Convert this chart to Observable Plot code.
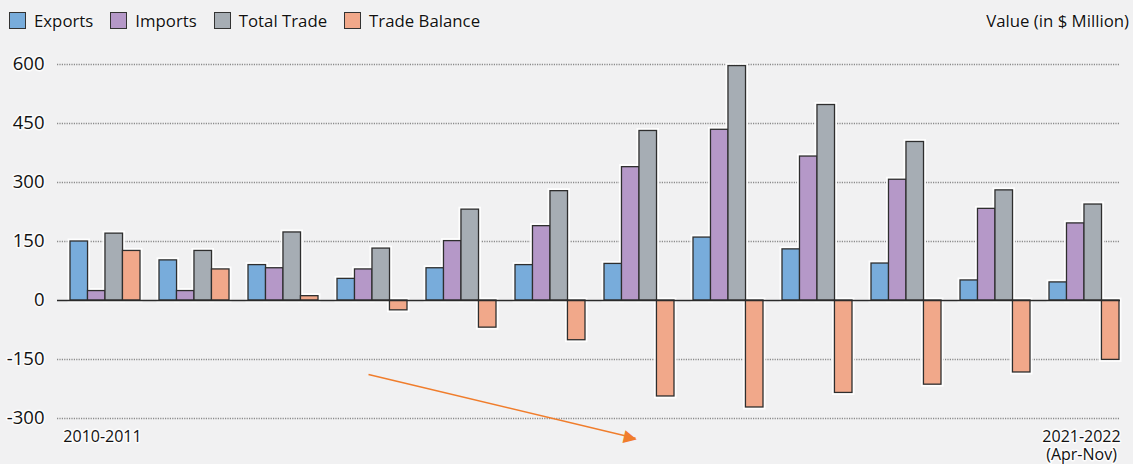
<!DOCTYPE html>
<html><head><meta charset="utf-8">
<script src="https://cdn.jsdelivr.net/npm/d3@7"></script>
<script src="https://cdn.jsdelivr.net/npm/@observablehq/plot@0.6"></script>
<style>
body{margin:0;background:#f1f1f2;font-family:"Open Sans",sans-serif;}
#wrap{width:1133px;height:464px;position:relative;background:#f1f1f2;}
#head{height:40px;display:flex;align-items:center;justify-content:space-between;font-size:16.8px;color:#111;text-shadow:0 0 3px #fff,0 0 2px #fff;}
.legend{display:flex;align-items:center;padding-left:9px;}
.item{display:flex;align-items:center;margin-right:17px;}
.sw{width:15px;height:15px;border:1.5px solid #333;margin-right:8px;}
.unit{padding-right:4px;}
#chart svg{display:block;background:transparent;}
#chart svg g[aria-label="y-axis tick label"] text, #chart svg g[aria-label="y-axis"] text{paint-order:stroke;stroke:#fff;stroke-width:3px;stroke-linejoin:round;stroke-opacity:0.85;}
</style></head>
<body>
<div id="wrap">
  <div id="head"><div class="legend" id="legend"></div><div class="unit">Value (in $ Million)</div></div>
  <div id="chart"></div>
</div>
<script>
const years = ["2010-2011","2011-2012","2012-2013","2013-2014","2014-2015","2015-2016","2016-2017","2017-2018","2018-2019","2019-2020","2020-2021","2021-2022"];
const exportsV = [150,102,90,55,82,90,93,160,130,94,51,46];
const importsV = [24,24,82,79,151,189,339,434,366,307,233,196];
const totalV = [170,126,173,132,231,278,431,596,497,403,280,244];
const balanceV = [126,79,11,-25,-69,-101,-244,-272,-235,-214,-183,-151];
const seriesNames = ["Exports","Imports","Total Trade","Trade Balance"];
const colors = ["#78acdb","#b598c8","#a6adb4","#f1a88a"];
const yTicks = [-300,-150,0,150,300,450,600];
const xLabels = [{year:"2010-2011", label:"2010-2011"},{year:"2021-2022", label:"2021-2022\n(Apr-Nov)"}];
const arrowData = [{x1:"2013-2014", y1:-188, x2:"2016-2017", y2:-350}];

// legend
const lg = document.getElementById("legend");
seriesNames.forEach((s,i)=>{
  const it=document.createElement("div"); it.className="item";
  const sw=document.createElement("div"); sw.className="sw"; sw.style.background=colors[i];
  const t=document.createElement("span"); t.textContent=s;
  it.appendChild(sw); it.appendChild(t); lg.appendChild(it);
});

const table = years.flatMap((yr,i)=>[exportsV[i],importsV[i],totalV[i],balanceV[i]].map((v,j)=>({year:yr, series:seriesNames[j], value:v})));

const W=1133, H=424, mL=57, mR=13, pI=0.216, pO=0.067;
const step=(W-mL-mR)/(years.length - pI + 2*pO);
const q = step*(1-pI)/4;

const marks = [
  Plot.ruleY(yTicks.filter(d=>d!==0), {stroke:"#8a8a8a", strokeWidth:1.3, strokeDasharray:"1.2,1.2"}),
  ...seriesNames.map((s,j)=>Plot.barY(table.filter(d=>d.series===s), {x:"year", y:"value", insetLeft:j*q, insetRight:(3-j)*q, fill:"#fff", stroke:"#fff", strokeWidth:5, strokeOpacity:0.9})),
  ...seriesNames.map((s,j)=>Plot.barY(table.filter(d=>d.series===s), {x:"year", y:"value", insetLeft:j*q, insetRight:(3-j)*q, fill:colors[j], stroke:"#2e2e2e", strokeWidth:1.3})),
  Plot.ruleY([0], {stroke:"#2a2a2a", strokeWidth:1.6}),
  Plot.text(xLabels, {x:"year", text:"label", frameAnchor:"bottom", lineAnchor:"top", lineHeight:1.12, dy:11, dx:-3, fontSize:16, fill:"#111", stroke:"#fff", strokeWidth:3, strokeOpacity:0.85}),
  Plot.link(arrowData, {x1:"x1", y1:"y1", x2:"x2", y2:"y2", dx:-4, stroke:"#f07d2c", strokeWidth:1.6}),
  Plot.text(arrowData, {x:"x2", y:"y2", text:d=>"\u25B6", rotate:13, fontSize:17, fill:"#f07d2c", dx:-9, dy:-1})
];

const plot = Plot.plot({
  width:W, height:H, marginLeft:mL, marginRight:mR, marginTop:24, marginBottom:46,
  style:{background:"transparent", fontSize:"18.5px", fontFamily:"'Open Sans', sans-serif", color:"#111"},
  x:{domain:years, paddingInner:pI, paddingOuter:pO, align:0.89, axis:null},
  y:{domain:[-300,600], ticks:yTicks, tickSize:0, tickPadding:13, label:null, tickFormat:d=>String(d)},
  marks
});
document.getElementById("chart").appendChild(plot);
</script>
</body></html>
